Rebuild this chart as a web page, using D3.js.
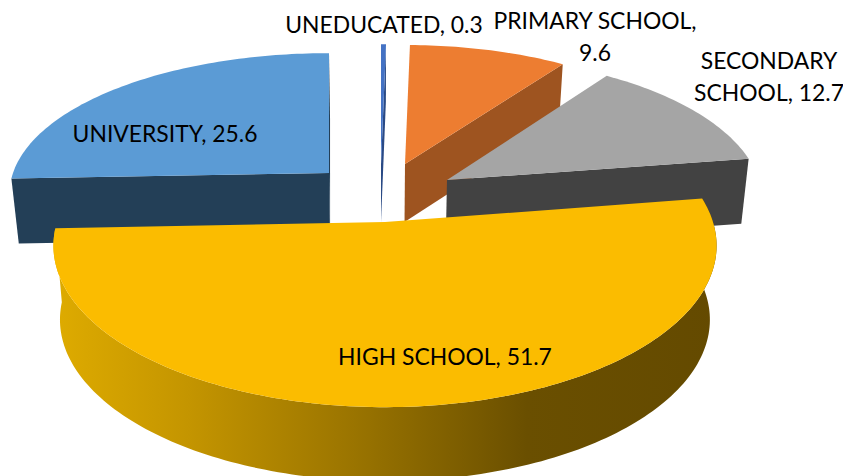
<!DOCTYPE html>
<html><head><meta charset="utf-8">
<script src="https://cdn.jsdelivr.net/npm/d3@7"></script>
<style>html,body{margin:0;padding:0;background:#fff}svg{display:block}text{font-family:Lato,"Open Sans",sans-serif;fill:#000}</style>
</head><body><svg id="c" width="843" height="476"></svg>
<script>
const categories = ["UNEDUCATED","PRIMARY SCHOOL","SECONDARY SCHOOL","HIGH SCHOOL","UNIVERSITY"];
const values = [0.3, 9.6, 12.7, 51.7, 25.6];
const topColors = ["#4472c4","#ed7d31","#a5a5a5","#fbbc00","#5b9bd5"];
const wallColors = ["#2a4a85","#9e5420","#424242","#6a4f00","#233f57"];
// Layout: apex of each exploded slice, ellipse radii and extrusion depth
const apexX = [381,405,447,385,329];
const apexY = [165,164,180,222,173];
const radiusX = [312,308,312,328,316];
const radiusY = [142,140,146,161,141];
const depth = [57,58,65,74,65];
const persp = 0.15, vanishX = 381, shrink = 0.98;

const svg = d3.select("#c");
const defs = svg.append("defs");
const grad = defs.append("linearGradient").attr("id","hsWall").attr("gradientUnits","userSpaceOnUse")
  .attr("x1",55).attr("x2",720).attr("y1",0).attr("y2",0);
[[0,"#deab00"],[0.2,"#c49500"],[0.45,"#9a7400"],[0.71,"#6a4f00"],[1,"#644a00"]]
  .forEach(([o,c])=>grad.append("stop").attr("offset",o).attr("stop-color",c));

const arcs = d3.pie().value(d=>d).sort(null)(values);
const line = d3.line();
function proj(i,t,r,low){
  const w = 1 - persp*Math.cos(t)*r;
  let x = apexX[i] + radiusX[i]*r*Math.sin(t)*w;
  let y = apexY[i] - radiusY[i]*r*Math.cos(t)*w;
  if(low){ x = vanishX+(x-vanishX)*shrink; y += depth[i]; }
  return [x,y];
}
function rim(i,a0,a1,low){
  const n = Math.max(2,Math.ceil((a1-a0)/0.02));
  return d3.range(n+1).map(k=>proj(i,a0+(a1-a0)*k/n,1,low));
}
function sliceGroup(i){
  const a = arcs[i], g = svg.append("g");
  const s = a.startAngle, e = a.endAngle;
  const edge = (t)=>[proj(i,t,0,false),proj(i,t,1,false),proj(i,t,1,true),proj(i,t,0,true)];
  if(i===3){
    g.append("path").attr("d",line(rim(i,s,e,false).concat(rim(i,s,e,true).reverse()))+"Z").attr("fill","url(#hsWall)");
  } else if(i===1||i===2){
    g.append("path").attr("d",line(edge(e))+"Z").attr("fill",wallColors[i]);
  } else if(i===4){
    g.append("path").attr("d",line(edge(s))+"Z").attr("fill",wallColors[i]);
    g.append("path").attr("d",line(edge(e))+"Z").attr("fill",wallColors[i]);
  } else {
    g.append("path").attr("d",line(edge(e))+"Z").attr("fill",wallColors[i]);
  }
  g.append("path").attr("d",line([proj(i,s,0,false)].concat(rim(i,s,e,false)))+"Z").attr("fill",topColors[i]);
}
[0,1,2,4,3].forEach(sliceGroup);

const labelLines = [
  [`${categories[0]}, ${values[0]}`],
  [`${categories[1]},`,`${values[1]}`],
  ["SECONDARY",`SCHOOL, ${values[2]}`],
  [`${categories[3]}, ${values[3]}`],
  [`${categories[4]}, ${values[4]}`]
];
const labelX = [384,595,769,445,165];
const labelY = [33,29,69,365,142];
const lineGap = 32;
labelLines.forEach((ls,i)=>ls.forEach((t,k)=>{
  svg.append("text").attr("x",labelX[i]).attr("y",labelY[i]+k*lineGap)
    .attr("text-anchor","middle").attr("font-size",22.9).text(t);
}));
</script></body></html>
